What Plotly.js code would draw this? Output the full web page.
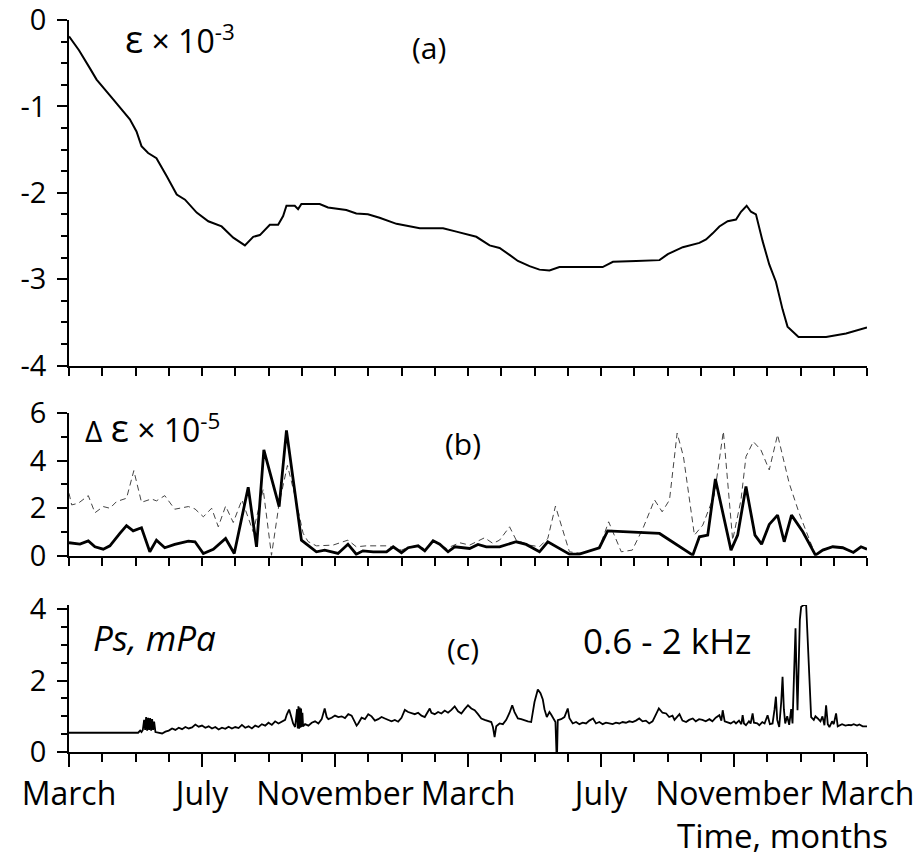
<!DOCTYPE html>
<html>
<head>
<meta charset="utf-8">
<script src="https://cdn.plot.ly/plotly-3.0.1.min.js"></script>
<style>html,body{margin:0;padding:0;background:#fff;}</style>
</head>
<body>
<div id="chart" style="width:917px;height:860px;"></div>
<script>
// ---------- data (months since first March) ----------
const monthLabels = ['March', 'July', 'November', 'March', 'July', 'November', 'March'];
const labelMonths = [0, 4, 8, 12, 16, 20, 24];
const strainTickText = ['-4', '-3', '-2', '-1', '0'];
const dStrainTickText = ['0', '2', '4', '6'];
const psTickText = ['0', '2', '4'];

// (a) strain, x10^-3
const strainMonths = [0,0.3,0.63,0.83,1.33,1.83,2.03,2.18,2.38,2.63,
  2.94,3.24,3.49,3.84,4.19,4.59,4.94,5.29,5.54,5.74,
  6.04,6.29,6.44,6.54,6.79,6.89,6.99,7.54,7.79,8.34,
  8.64,8.99,9.34,9.85,10.55,11.25,11.65,12.25,12.65,12.95,
  13.25,13.5,13.85,14.15,14.45,14.75,16.05,16.36,17.06,17.76,
  18.01,18.46,18.96,19.16,19.36,19.56,19.81,20.06,20.21,20.38,
  20.51,20.66,20.86,21.06,21.26,21.46,21.61,21.76,21.94,22.77,
  23.37,24.0];
const strainValues = [-0.19,-0.35,-0.56,-0.69,-0.92,-1.15,-1.29,-1.46,-1.54,-1.60,
  -1.81,-2.02,-2.08,-2.23,-2.33,-2.39,-2.52,-2.61,-2.51,-2.49,
  -2.37,-2.37,-2.27,-2.15,-2.15,-2.19,-2.13,-2.13,-2.17,-2.20,
  -2.24,-2.25,-2.29,-2.36,-2.41,-2.41,-2.45,-2.51,-2.61,-2.64,
  -2.72,-2.79,-2.85,-2.89,-2.90,-2.86,-2.86,-2.80,-2.79,-2.78,
  -2.71,-2.63,-2.58,-2.54,-2.47,-2.39,-2.33,-2.31,-2.22,-2.15,
  -2.22,-2.25,-2.56,-2.83,-3.03,-3.35,-3.55,-3.61,-3.67,-3.67,
  -3.63,-3.56];

// (b) strain increments, x10^-5 : solid series
const dSolidMonths = [0,0.33,0.58,0.78,1.03,1.23,1.53,1.73,1.93,2.18,
  2.43,2.63,2.88,3.18,3.59,3.79,4.04,4.34,4.71,4.97,
  5.39,5.64,5.86,6.32,6.54,6.99,7.44,7.69,8.09,8.39,
  8.64,8.84,9.15,9.55,9.75,10.0,10.2,10.5,10.7,10.95,
  11.15,11.4,11.6,12.05,12.3,12.55,12.95,13.45,13.75,14.15,
  14.4,14.75,15.05,15.35,15.55,15.95,16.2,17.76,18.76,18.96,
  19.21,19.44,19.91,20.11,20.36,20.63,20.83,21.06,21.31,21.51,
  21.73,22.07,22.45,22.67,22.97,23.27,23.59,23.82,24.0];
const dSolidValues = [0.55,0.49,0.63,0.38,0.28,0.42,0.94,1.27,1.05,1.18,
  0.17,0.66,0.34,0.48,0.62,0.59,0.10,0.27,0.73,0.10,
  2.88,0.38,4.45,2.07,5.27,0.66,0.17,0.24,0.10,0.49,
  0.07,0.21,0.17,0.17,0.38,0.13,0.34,0.42,0.21,0.63,
  0.49,0.17,0.38,0.31,0.48,0.38,0.38,0.59,0.48,0.17,
  0.59,0.31,0.07,0.07,0.17,0.34,1.05,0.94,0.03,0.80,
  0.87,3.23,0.24,0.87,2.91,0.87,0.49,1.32,1.71,0.59,
  1.71,1.01,0.03,0.24,0.38,0.34,0.14,0.38,0.28];

// (b) dashed series
const dDashMonths = [0,0.08,0.28,0.58,0.78,1.03,1.23,1.43,1.73,1.95,
  2.18,2.48,2.63,2.88,3.18,3.59,3.79,4.04,4.29,4.49,
  4.71,4.94,5.2,5.54,5.84,6.09,6.32,6.57,6.8,7.04,
  7.19,7.44,7.94,8.39,8.64,8.94,9.55,10.0,10.25,10.5,
  10.73,10.95,11.35,11.75,12.05,12.5,12.75,12.95,13.25,13.45,
  13.85,14.15,14.4,14.63,15.05,15.41,15.76,15.95,16.23,16.61,
  16.94,17.26,17.61,17.84,18.06,18.29,18.48,18.81,19.06,19.41,
  19.68,19.96,20.21,20.36,20.58,20.81,21.06,21.31,21.66,21.96,
  22.45,22.67,22.97,23.27,23.59,23.82,24.0];
const dDashValues = [2.63,2.14,2.21,2.53,1.81,2.07,2.0,2.28,2.42,3.58,
  2.25,2.39,2.31,2.53,1.96,2.07,1.97,1.64,2.0,1.22,
  2.09,1.40,2.35,1.01,2.80,0.02,2.2,3.8,2.5,0.95,
  0.6,0.42,0.45,0.66,0.38,0.42,0.42,0.24,0.38,0.42,
  0.27,0.66,0.31,0.55,0.45,0.76,0.52,0.66,1.22,0.66,
  0.45,0.38,0.73,2.09,0.17,0.10,0.24,0.34,1.43,0.17,
  0.24,1.15,2.35,1.85,2.35,5.16,4.17,0.87,1.29,2.56,
  5.23,0.66,2.35,4.17,4.80,4.45,3.61,5.09,3.05,1.79,
  0.03,0.26,0.40,0.36,0.16,0.40,0.30];

// (c) acoustic pressure Ps, mPa (0.6 - 2 kHz)
const psMonths = [0,2.08,2.14,2.18,2.22,2.26,2.29,2.32,2.35,2.38,
  2.41,2.44,2.47,2.50,2.53,2.56,2.60,2.70,2.80,2.90,
  3.0,3.1,3.2,3.3,3.4,3.5,3.6,3.7,3.8,3.9,
  4.0,4.1,4.2,4.3,4.4,4.5,4.6,4.7,4.8,4.9,
  5.0,5.1,5.2,5.3,5.4,5.5,5.6,5.7,5.8,5.9,
  6.0,6.1,6.2,6.3,6.4,6.5,6.55,6.62,6.68,6.74,
  6.80,6.86,6.88,6.90,6.92,6.94,6.96,6.98,7.00,7.02,
  7.04,7.1,7.2,7.3,7.4,7.5,7.6,7.69,7.75,7.8,
  7.9,8.0,8.1,8.2,8.3,8.4,8.5,8.6,8.65,8.7,
  8.8,8.9,9.0,9.1,9.2,9.3,9.4,9.5,9.6,9.7,
  9.8,9.9,10.0,10.1,10.2,10.3,10.4,10.5,10.6,10.7,
  10.8,10.85,10.9,11.0,11.1,11.2,11.3,11.4,11.5,11.6,
  11.7,11.8,11.9,12.0,12.1,12.2,12.3,12.4,12.5,12.6,
  12.7,12.75,12.8,12.85,12.95,13.05,13.15,13.25,13.33,13.4,
  13.5,13.6,13.7,13.8,13.9,13.95,14.0,14.1,14.18,14.25,
  14.3,14.37,14.45,14.5,14.58,14.63,14.66,14.68,14.7,14.8,
  14.9,15.0,15.05,15.15,15.25,15.35,15.45,15.55,15.65,15.76,
  15.85,15.95,16.05,16.15,16.25,16.35,16.45,16.55,16.65,16.75,
  16.85,16.95,17.05,17.15,17.25,17.35,17.45,17.55,17.65,17.74,
  17.85,17.96,18.05,18.15,18.21,18.3,18.36,18.45,18.56,18.65,
  18.76,18.85,18.95,19.05,19.15,19.26,19.35,19.45,19.56,19.62,
  19.66,19.72,19.81,19.9,20.0,20.06,20.15,20.22,20.26,20.3,
  20.36,20.45,20.5,20.56,20.6,20.7,20.76,20.85,20.92,21.01,
  21.08,21.16,21.22,21.26,21.3,21.36,21.42,21.46,21.5,21.54,
  21.6,21.66,21.72,21.76,21.8,21.85,21.88,21.91,21.95,21.98,
  22.02,22.1,22.17,22.22,22.27,22.32,22.4,22.45,22.52,22.6,
  22.66,22.72,22.77,22.82,22.87,22.95,23.0,23.07,23.12,23.17,
  23.25,23.35,23.45,23.52,23.6,23.7,23.77,23.87,24.0];
const psValues = [0.54,0.54,0.60,0.56,0.62,0.90,0.62,0.98,0.60,0.96,
  0.62,0.95,0.60,0.92,0.62,0.85,0.56,0.53,0.52,0.57,
  0.60,0.66,0.62,0.68,0.64,0.70,0.66,0.69,0.77,0.71,
  0.74,0.68,0.72,0.66,0.70,0.63,0.68,0.65,0.71,0.66,
  0.70,0.67,0.76,0.68,0.72,0.66,0.74,0.70,0.78,0.74,
  0.82,0.76,0.86,0.80,0.84,0.90,1.05,1.19,1.00,0.80,
  0.70,1.20,0.66,1.28,0.65,1.25,0.68,1.22,0.70,1.10,
  0.72,0.78,0.74,0.82,0.86,0.80,0.92,1.22,0.98,0.92,
  0.96,1.02,0.98,1.00,0.95,1.06,1.02,0.82,0.74,0.80,
  0.96,0.92,1.06,1.00,0.88,0.92,0.98,0.94,0.90,0.86,
  0.90,0.85,0.96,1.18,1.12,1.10,1.06,1.10,1.02,0.98,
  1.12,1.22,1.10,1.06,1.12,1.08,1.16,1.10,1.18,1.28,
  1.14,1.08,1.20,1.31,1.22,1.17,1.06,0.94,0.90,0.86,
  0.84,0.70,0.42,0.72,0.80,0.78,0.90,1.10,1.31,1.12,
  0.94,0.92,0.88,0.86,0.84,1.10,1.40,1.75,1.65,1.47,
  1.20,0.98,1.12,1.05,0.90,0.84,0.0,0.0,0.89,0.92,
  0.98,1.22,0.95,0.80,0.84,0.78,0.82,0.80,0.88,0.94,
  0.80,0.84,0.78,0.82,0.80,0.78,0.82,0.80,0.84,0.82,
  0.86,0.84,0.88,0.94,0.86,0.88,0.80,0.86,1.05,1.22,
  1.10,1.08,0.98,1.02,0.90,0.98,1.06,0.88,0.84,0.90,
  0.94,0.86,0.92,0.90,0.86,0.92,0.86,0.96,1.03,0.88,
  1.17,0.86,0.84,0.80,0.86,0.80,0.88,0.78,1.03,0.80,
  0.75,0.86,0.80,1.08,0.82,0.80,0.75,0.84,0.80,1.03,
  0.78,0.80,1.20,1.55,0.90,0.70,1.40,2.11,1.20,0.80,
  1.00,0.76,1.20,0.80,2.00,3.47,2.20,1.17,2.60,3.70,
  4.07,4.12,4.12,3.00,1.69,0.98,0.90,1.00,0.94,0.86,
  1.00,0.75,1.31,0.78,0.70,0.86,0.78,1.08,0.72,0.75,
  0.78,0.74,0.76,0.75,0.78,0.74,0.77,0.72,0.72];

// ---------- figure ----------
const FONT = 'Open Sans, Liberation Sans, Arial, sans-serif';
const traces = [
  {x: strainMonths, y: strainValues, xaxis: 'x', yaxis: 'y', type: 'scatter', mode: 'lines',
   line: {color: '#000', width: 2}, hoverinfo: 'skip'},
  {x: dDashMonths, y: dDashValues, xaxis: 'x2', yaxis: 'y2', type: 'scatter', mode: 'lines',
   line: {color: '#444', width: 1, dash: '6px,4px'}, hoverinfo: 'skip'},
  {x: dSolidMonths, y: dSolidValues, xaxis: 'x2', yaxis: 'y2', type: 'scatter', mode: 'lines',
   line: {color: '#000', width: 2.8}, hoverinfo: 'skip'},
  {x: psMonths, y: psValues, xaxis: 'x3', yaxis: 'y3', type: 'scatter', mode: 'lines',
   line: {color: '#000', width: 1.8}, hoverinfo: 'skip'}
];

function xAxisPlain(anchor) {
  return {anchor: anchor, range: [0, 24], showline: true, linecolor: '#000', linewidth: 2,
    ticks: 'outside', tickmode: 'linear', tick0: 0, dtick: 1, ticklen: 8, tickwidth: 2,
    tickcolor: '#000', showticklabels: false, showgrid: false, zeroline: false, fixedrange: true};
}
function yAxis(domain, range, vals, text, minorStep) {
  // a trailing thin space keeps the right-aligned labels a little away from the ticks
  return {domain: domain, range: range, showline: true, linecolor: '#000', linewidth: 2,
    ticks: 'outside', tickmode: 'array', tickvals: vals, ticktext: text.map(t => t + '\u2009'),
    ticklen: 10, tickwidth: 2, tickcolor: '#000', showgrid: false, zeroline: false,
    ticklabeloverflow: 'allow',
    tickfont: {family: FONT, size: 29, color: '#000'},
    minor: {tickmode: 'linear', tick0: 0, dtick: minorStep, ticks: 'outside', ticklen: 6,
      tickwidth: 2, tickcolor: '#000', showgrid: false}};
}

const layout = {
  width: 917, height: 860,
  margin: {l: 69, r: 50, t: 20, b: 108},
  paper_bgcolor: '#fff', plot_bgcolor: '#fff',
  showlegend: false,
  font: {family: FONT, color: '#000'},
  xaxis: xAxisPlain('y'),
  xaxis2: xAxisPlain('y2'),
  xaxis3: {anchor: 'y3', range: [0, 24], showline: true, linecolor: '#000', linewidth: 2,
    ticks: 'outside', tickmode: 'array', tickvals: labelMonths, ticktext: monthLabels,
    ticklen: 13, tickwidth: 2, tickcolor: '#000', showgrid: false, zeroline: false,
    ticklabeloverflow: 'allow',
    tickfont: {family: FONT, size: 32, color: '#000'},
    minor: {tickmode: 'linear', tick0: 0, dtick: 1, ticks: 'outside', ticklen: 8,
      tickwidth: 2, tickcolor: '#000', showgrid: false}},
  yaxis: yAxis([0.528, 1], [-4, 0], [-4, -3, -2, -1, 0], strainTickText, 0.25),
  yaxis2: yAxis([0.268, 0.463], [0, 6], [0, 2, 4, 6], dStrainTickText, 1),
  yaxis3: yAxis([0, 0.2008], [0, 4.12], [0, 2, 4], psTickText, 0.5),
  annotations: [
    {xref: 'paper', yref: 'paper', x: 0.068, y: 0.975, xanchor: 'left', yanchor: 'middle',
     text: '<span style="font-size:38px">ε</span> × 10<sup>-3</sup>', showarrow: false,
     font: {family: FONT, size: 32, color: '#000'}},
    {xref: 'paper', yref: 'paper', x: 0.451, y: 0.963, xanchor: 'center', yanchor: 'middle',
     text: '(a)', showarrow: false, font: {family: FONT, size: 30, color: '#000'}},
    {xref: 'paper', yref: 'paper', x: 0.018, y: 0.444, xanchor: 'left', yanchor: 'middle',
     text: '<span style="font-size:30px">Δ</span> <span style="font-size:38px">ε</span> × 10<sup>-5</sup>',
     showarrow: false, font: {family: FONT, size: 32, color: '#000'}},
    {xref: 'paper', yref: 'paper', x: 0.494, y: 0.422, xanchor: 'center', yanchor: 'middle',
     text: '(b)', showarrow: false, font: {family: FONT, size: 30, color: '#000'}},
    {xref: 'paper', yref: 'paper', x: 0.027, y: 0.157, xanchor: 'left', yanchor: 'middle',
     text: '<i>Ps, mPa</i>', showarrow: false, font: {family: FONT, size: 35, color: '#000'}},
    {xref: 'paper', yref: 'paper', x: 0.494, y: 0.141, xanchor: 'center', yanchor: 'middle',
     text: '(c)', showarrow: false, font: {family: FONT, size: 30, color: '#000'}},
    {xref: 'paper', yref: 'paper', x: 0.641, y: 0.152, xanchor: 'left', yanchor: 'middle',
     text: '0.6 - 2 kHz', showarrow: false, font: {family: FONT, size: 35, color: '#000'}},
    {xref: 'paper', yref: 'paper', x: 1.029, y: -0.114, xanchor: 'right', yanchor: 'middle',
     text: 'Time, months', showarrow: false, font: {family: FONT, size: 33, color: '#000'}}
  ]
};

Plotly.newPlot('chart', traces, layout, {staticPlot: true, displayModeBar: false});
</script>
</body>
</html>
